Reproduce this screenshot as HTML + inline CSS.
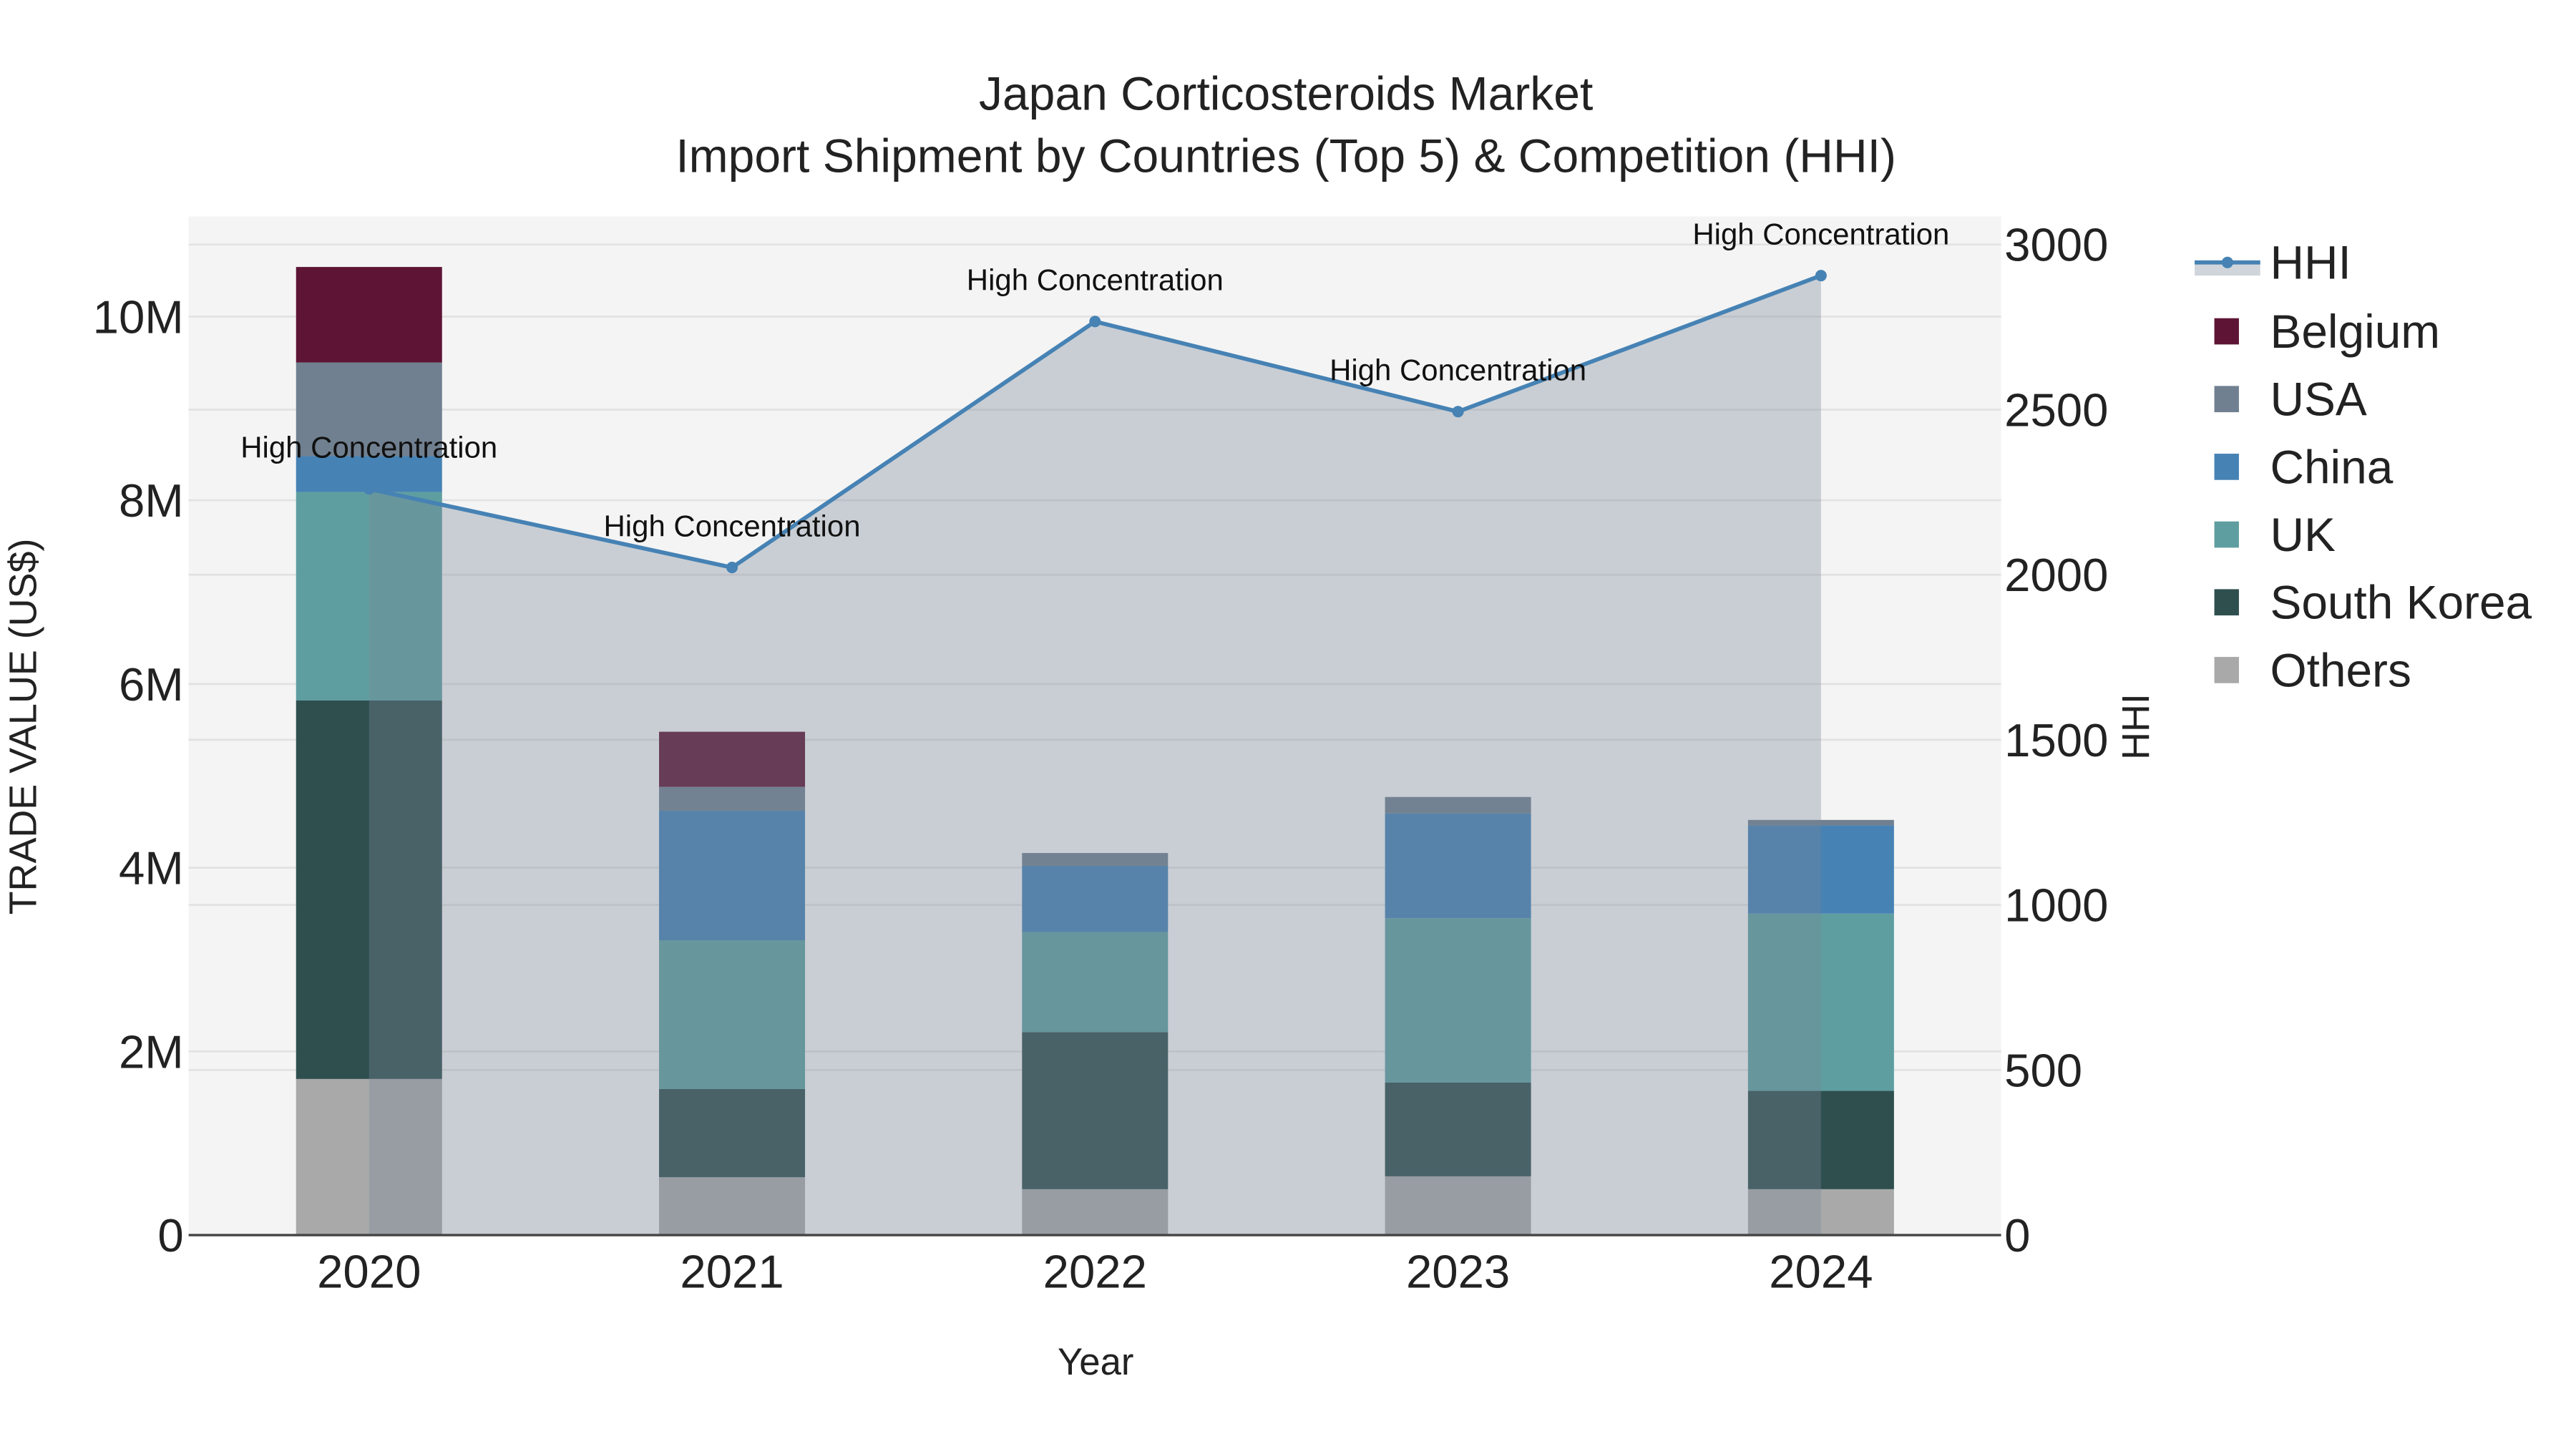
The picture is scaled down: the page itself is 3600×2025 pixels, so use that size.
<!DOCTYPE html>
<html><head><meta charset="utf-8"><style>html,body{margin:0;padding:0;background:#fff}svg{display:block}text{font-family:"Liberation Sans",sans-serif}</style></head>
<body>
<svg id="chart" width="3600" height="2025" viewBox="0 -2 1570.5 883.4" xmlns="http://www.w3.org/2000/svg">
<rect y="-5" width="1580" height="895" fill="#fff"/>
<rect x="115" y="130" width="1105" height="621" fill="#f4f4f4"/>
<g id="grid"></g>
<g id="bars"></g>
<g id="hhi"></g>
<g id="axes"></g>
<text x="784" y="65" text-anchor="middle" font-size="28.8" fill="#222">Japan Corticosteroids Market</text>
<text x="784" y="103" text-anchor="middle" font-size="28.8" fill="#222">Import Shipment by Countries (Top 5) &amp; Competition (HHI)</text>
<text x="668" y="836" text-anchor="middle" font-size="23" fill="#222">Year</text>
<text transform="translate(22,441) rotate(-90)" text-anchor="middle" font-size="23.5" fill="#222">TRADE VALUE (US$)</text>
<text transform="translate(1310,441) rotate(-90)" text-anchor="middle" font-size="23.5" fill="#222">HHI</text>
<g id="legend"></g>
</svg>
<script>
const years = ["2020","2021","2022","2023","2024"];
const others = [1.70,0.63,0.50,0.64,0.50];
const southKorea = [4.12,0.96,1.71,1.02,1.07];
const uk = [2.27,1.62,1.09,1.79,1.93];
const china = [0.39,1.41,0.72,1.14,0.96];
const usa = [1.02,0.26,0.14,0.18,0.06];
const belgium = [1.04,0.60,0,0,0];
const hhi = [2260,2022,2767,2494,2906];
const yTicks = [0,2,4,6,8,10];
const yTickLabels = ["0","2M","4M","6M","8M","10M"];
const y2Ticks = [0,500,1000,1500,2000,2500,3000];

const NS="http://www.w3.org/2000/svg";
function el(tag,attrs,parent,txt){const e=document.createElementNS(NS,tag);for(const k in attrs)e.setAttribute(k,attrs[k]);if(txt!==undefined)e.textContent=txt;parent.appendChild(e);return e;}
const X=i=>225+i*221.3;
const Y=v=>751-v*56;
const Y2=v=>751-v*0.2013;
const grid=document.getElementById('grid'),bars=document.getElementById('bars'),hg=document.getElementById('hhi'),axes=document.getElementById('axes'),leg=document.getElementById('legend');
yTicks.forEach((t,i)=>{
  if(t>0){const g=el('line',{x1:115,x2:1220,y1:Y(t),y2:Y(t),stroke:'#e2e2e2','stroke-width':1.2},grid);
  
  }
  const tx=el('text',{x:112,y:Y(t)+10,'text-anchor':'end','font-size':28.5,fill:'#222'},axes,yTickLabels[i]);
  
  
});
y2Ticks.forEach(t=>{
  if(t>0){const g=el('line',{x1:115,x2:1220,y1:Y2(t),y2:Y2(t),stroke:'#e2e2e2','stroke-width':1.2},grid);
  
  }
  const tx=el('text',{x:1222,y:Y2(t)+10,'font-size':28.5,fill:'#222'},axes,String(t));
  
  
});
years.forEach((y,i)=>{
  const tx=el('text',{x:X(i),y:783,'text-anchor':'middle','font-size':28.5,fill:'#222'},axes,y);
  
  
});
const zl=el('line',{x1:115,x2:1220,y1:751,y2:751,stroke:'#444','stroke-width':1.5},axes);



const series=[["Others",others,"#a9a9a9"],["South Korea",southKorea,"#2f4f4f"],["UK",uk,"#5f9ea0"],["China",china,"#4682b4"],["USA",usa,"#708090"],["Belgium",belgium,"#5e1535"]];
years.forEach((y,i)=>{
  let base=0;
  series.forEach(s=>{
    const v=s[1][i];
    if(v>0){const r=el('rect',{x:X(i)-44.5,y:Y(base+v),width:89,height:Y(base)-Y(base+v),fill:s[2]},bars);
    
    }
    base+=v;
  });
});
let pts=hhi.map((v,i)=>X(i)+','+Y2(v)).join(' ');
const area=el('polygon',{points:X(0)+',751 '+pts+' '+X(hhi.length-1)+',751',fill:'rgba(119,136,153,0.35)'},hg);


const line=el('polyline',{points:pts,fill:'none',stroke:'#4682b4','stroke-width':2.5},hg);


hhi.forEach((v,i)=>{
  const c=el('circle',{cx:X(i),cy:Y2(v),r:3.5,fill:'#4682b4'},hg);
  
  
  const t=el('text',{x:X(i),y:Y2(v)-19,'text-anchor':'middle','font-size':18.3,fill:'#111'},hg,'High Concentration');
  
  
});
const lh=el('rect',{x:1338,y:158,width:40,height:8,fill:'rgba(119,136,153,0.35)'},leg);


const ll=el('line',{x1:1338,x2:1378,y1:158,y2:158,stroke:'#4682b4','stroke-width':2.5},leg);


el('circle',{cx:1358,cy:158,r:3.5,fill:'#4682b4'},leg);
const lt=el('text',{x:1384,y:168,'font-size':28.7,fill:'#222'},leg,'HHI');


const legItems=[["Belgium","#5e1535"],["USA","#708090"],["China","#4682b4"],["UK","#5f9ea0"],["South Korea","#2f4f4f"],["Others","#a9a9a9"]];
legItems.forEach((s,k)=>{
  const yy=200+k*41.3;
  const r=el('rect',{x:1350,y:yy-8,width:15,height:16,fill:s[1]},leg);
  
  
  const t=el('text',{x:1384,y:yy+10,'font-size':28.7,fill:'#222'},leg,s[0]);
  
  
});
</script>
</body></html>
